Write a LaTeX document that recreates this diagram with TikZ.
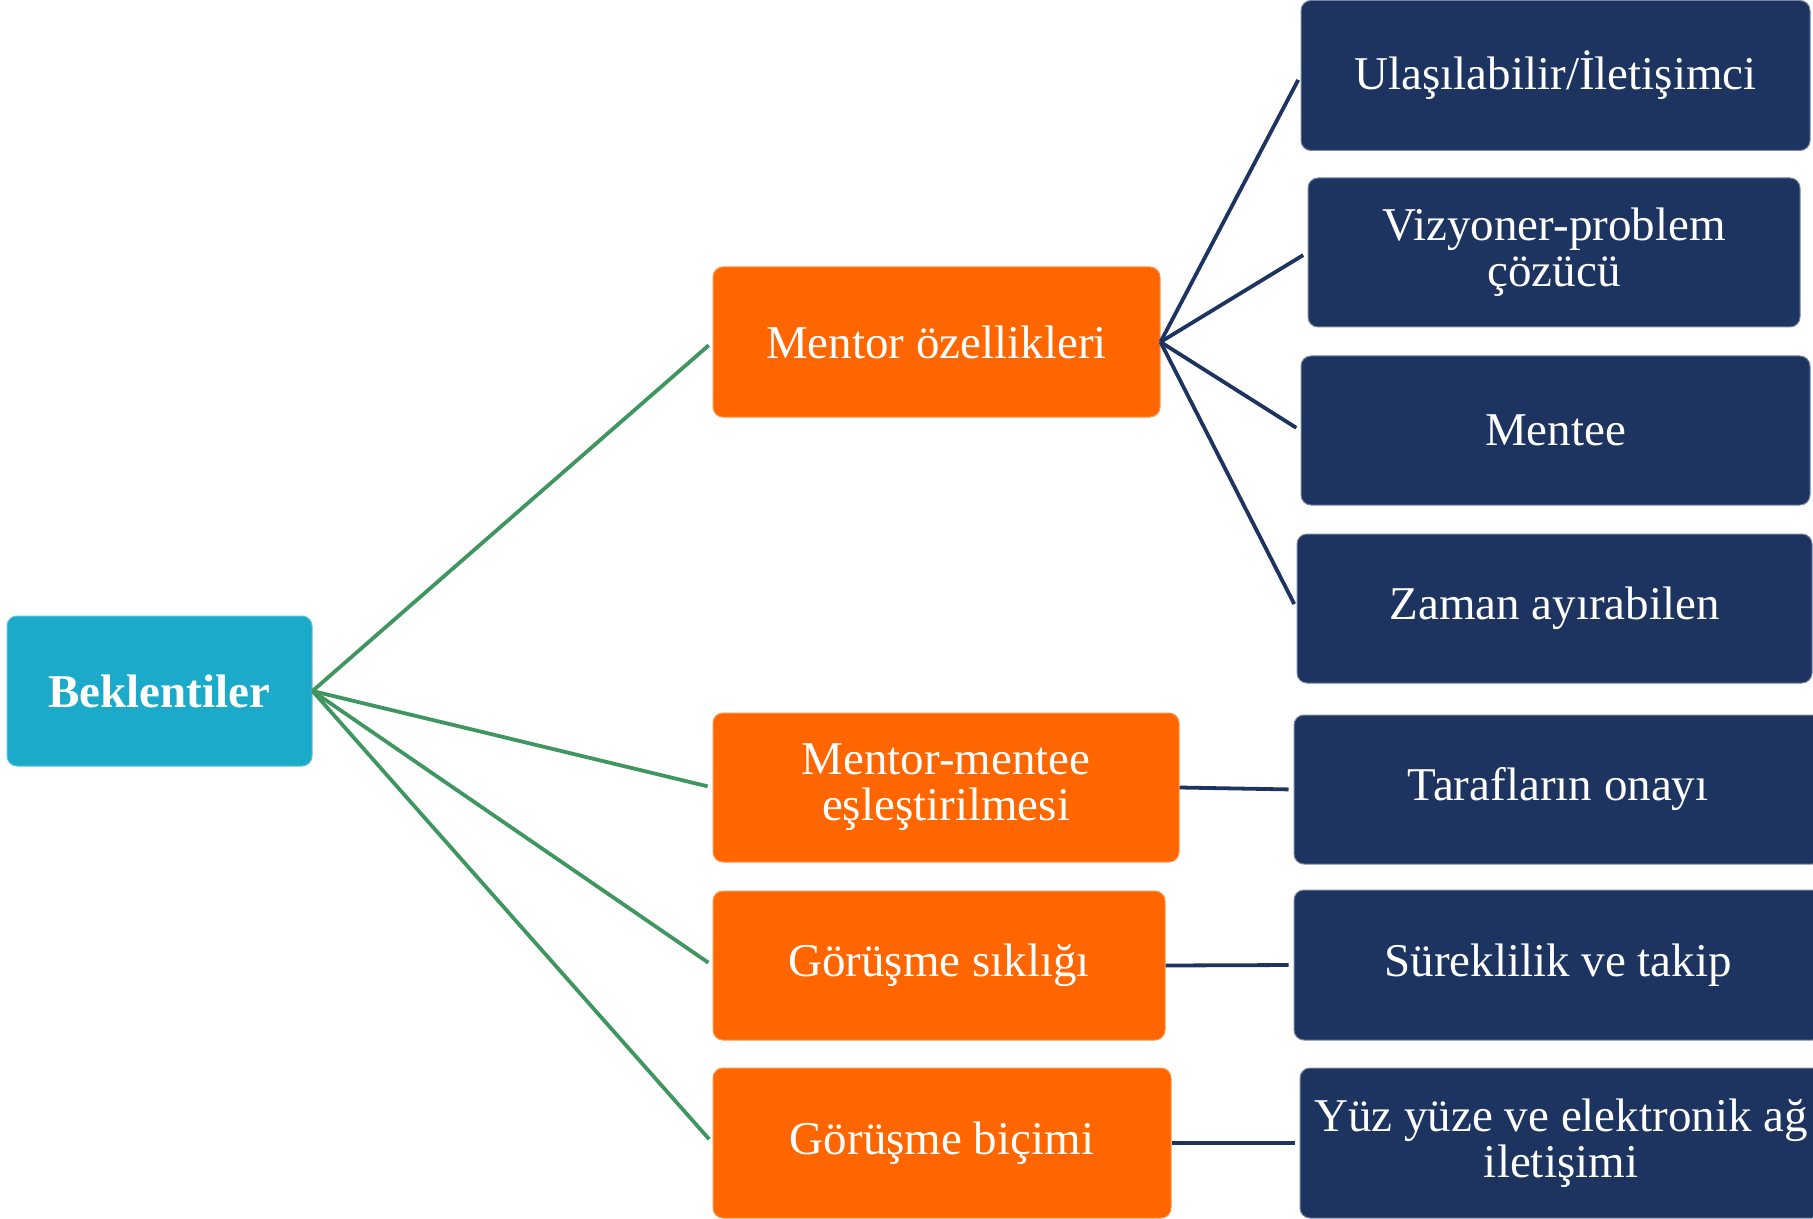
\documentclass[tikz,border=0pt]{standalone}
\usepackage{fontspec}
\setmainfont{Liberation Serif}
\usetikzlibrary{calc}
\definecolor{rootcyan}{RGB}{27,170,201}
\definecolor{midorange}{RGB}{255,102,0}
\definecolor{leafnavy}{RGB}{29,51,96}
\definecolor{linkgreen}{RGB}{64,150,96}
\tikzset{
  box/.style={rounded corners=5pt, text=white, align=center, inner sep=0pt,
    font=\fontsize{23.5}{23}\selectfont},
  rootbox/.style={box, fill=rootcyan, draw=rootcyan!70!white, line width=0.5pt,
    font=\fontsize{23.5}{23}\selectfont\bfseries},
  midbox/.style={box, fill=midorange, draw=midorange!70!white, line width=0.5pt},
  leafbox/.style={box, fill=leafnavy, draw=leafnavy!60!white, line width=0.5pt},
  greenlink/.style={line width=1.9pt, color=linkgreen, shorten >=2.5pt},
  navylink/.style={line width=1.9pt, color=leafnavy, shorten >=2.5pt}
}
\begin{document}
\begin{tikzpicture}[x=0.5pt, y=-0.5pt]
			%%%%% START %%%%%
			\useasboundingbox (0, 0) rectangle (1813, 1219);
			
			\node[rootbox, minimum width=152.5pt, minimum height=75pt] (bek) at (159.5, 691) {Beklentiler};
			
			\node[midbox, minimum width=223.5pt, minimum height=75pt] (ozel) at (936.5, 342) {Mentor özellikleri};
			\node[midbox, minimum width=233pt, minimum height=74.5pt] (esl) at (946, 787.5) {Mentor-mentee\\eşleştirilmesi};
			\node[midbox, minimum width=226pt, minimum height=74.5pt] (sik) at (939, 965.5) {Görüşme sıklığı};
			\node[midbox, minimum width=229pt, minimum height=75pt] (bic) at (942, 1143) {Görüşme biçimi};
			
			\node[leafbox, minimum width=254.5pt, minimum height=75pt] (ula) at (1555.5, 75.5) {Ulaşılabilir/İletişimci};
			\node[leafbox, minimum width=246pt, minimum height=74.5pt] (viz) at (1554, 252.5) {Vizyoner-problem\\çözücü};
			\node[leafbox, minimum width=254.5pt, minimum height=74.5pt] (men) at (1555.5, 430.5) {Mentee};
			\node[leafbox, minimum width=257.5pt, minimum height=74.5pt] (zam) at (1554.5, 608.5) {Zaman ayırabilen};
			\node[leafbox, minimum width=264pt, minimum height=74.5pt] (tar) at (1558, 789.5) {Tarafların onayı};
			\node[leafbox, minimum width=264pt, minimum height=75pt] (sur) at (1558, 965) {Süreklilik ve takip};
			\node[leafbox, minimum width=261pt, minimum height=75pt] (yuz) at (1561, 1143) {Yüz yüze ve elektronik ağ\\iletişimi};
			
			\draw[greenlink] (bek.east) -- (ozel.west);
			\draw[greenlink] (bek.east) -- (esl.west);
			\draw[greenlink] (bek.east) -- (sik.west);
			\draw[greenlink] (bek.east) -- (bic.west);
			
			\foreach \leaf in {ula, viz, men, zam}
				\draw[navylink] (ozel.east) -- (\leaf.west);
			
			\draw[navylink] (esl.east) -- (tar.west);
			\draw[navylink] (sik.east) -- (sur.west);
			\draw[navylink] (bic.east) -- (yuz.west);
			
			%%%%% END %%%%%
\end{tikzpicture}
\end{document}
